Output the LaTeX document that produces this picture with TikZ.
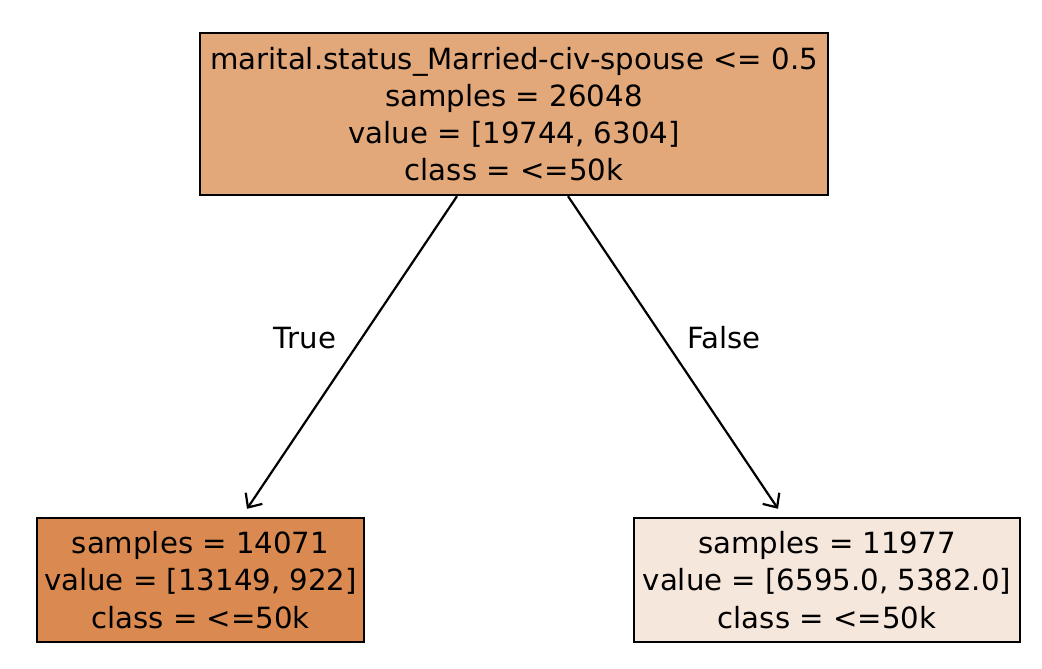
\documentclass[tikz,border=0pt]{standalone}
\usepackage{fontspec}
\setmainfont{DejaVu Sans}
\usetikzlibrary{arrows.meta}
\definecolor{rootfill}{RGB}{226,168,122}
\definecolor{leftfill}{RGB}{218,138,80}
\definecolor{rightfill}{RGB}{246,231,220}
\begin{document}
\begin{tikzpicture}[x=0.5pt, y=-0.5pt,
  box/.style={draw=black, line width=1.2pt, rectangle, inner sep=0pt, align=center,
    font=\fontsize{14.6pt}{18.6pt}\selectfont},
  link/.style={line width=1.1pt, -{Straight Barb[length=5.5pt,width=10pt,line width=1.1pt]}},
  lbl/.style={font=\fontsize{14.6pt}{16pt}\selectfont}]
\useasboundingbox (0,0) rectangle (1042,668);
\node[box, fill=rootfill, minimum width=314pt, minimum height=81pt] (Root) at (514,114)
  {marital.status\_Married-civ-spouse <= 0.5\\samples = 26048\\value = [19744, 6304]\\class = <=50k};
\node[box, fill=leftfill, minimum width=163.5pt, minimum height=62pt] (Left) at (200.5,580)
  {samples = 14071\\value = [13149, 922]\\class = <=50k};
\node[box, fill=rightfill, minimum width=193pt, minimum height=62pt] (Right) at (827,580)
  {samples = 11977\\value = [6595.0, 5382.0]\\class = <=50k};
\draw[link] ([xshift=-28.5pt]Root.south) -- ([xshift=23.25pt,yshift=4pt]Left.north);
\draw[link] ([xshift=27pt]Root.south) -- ([xshift=-24.5pt,yshift=4pt]Right.north);
\node[lbl] (TrueLabel) at (305,338) {True};
\node[lbl] (FalseLabel) at (724,338) {False};
\end{tikzpicture}
\end{document}
